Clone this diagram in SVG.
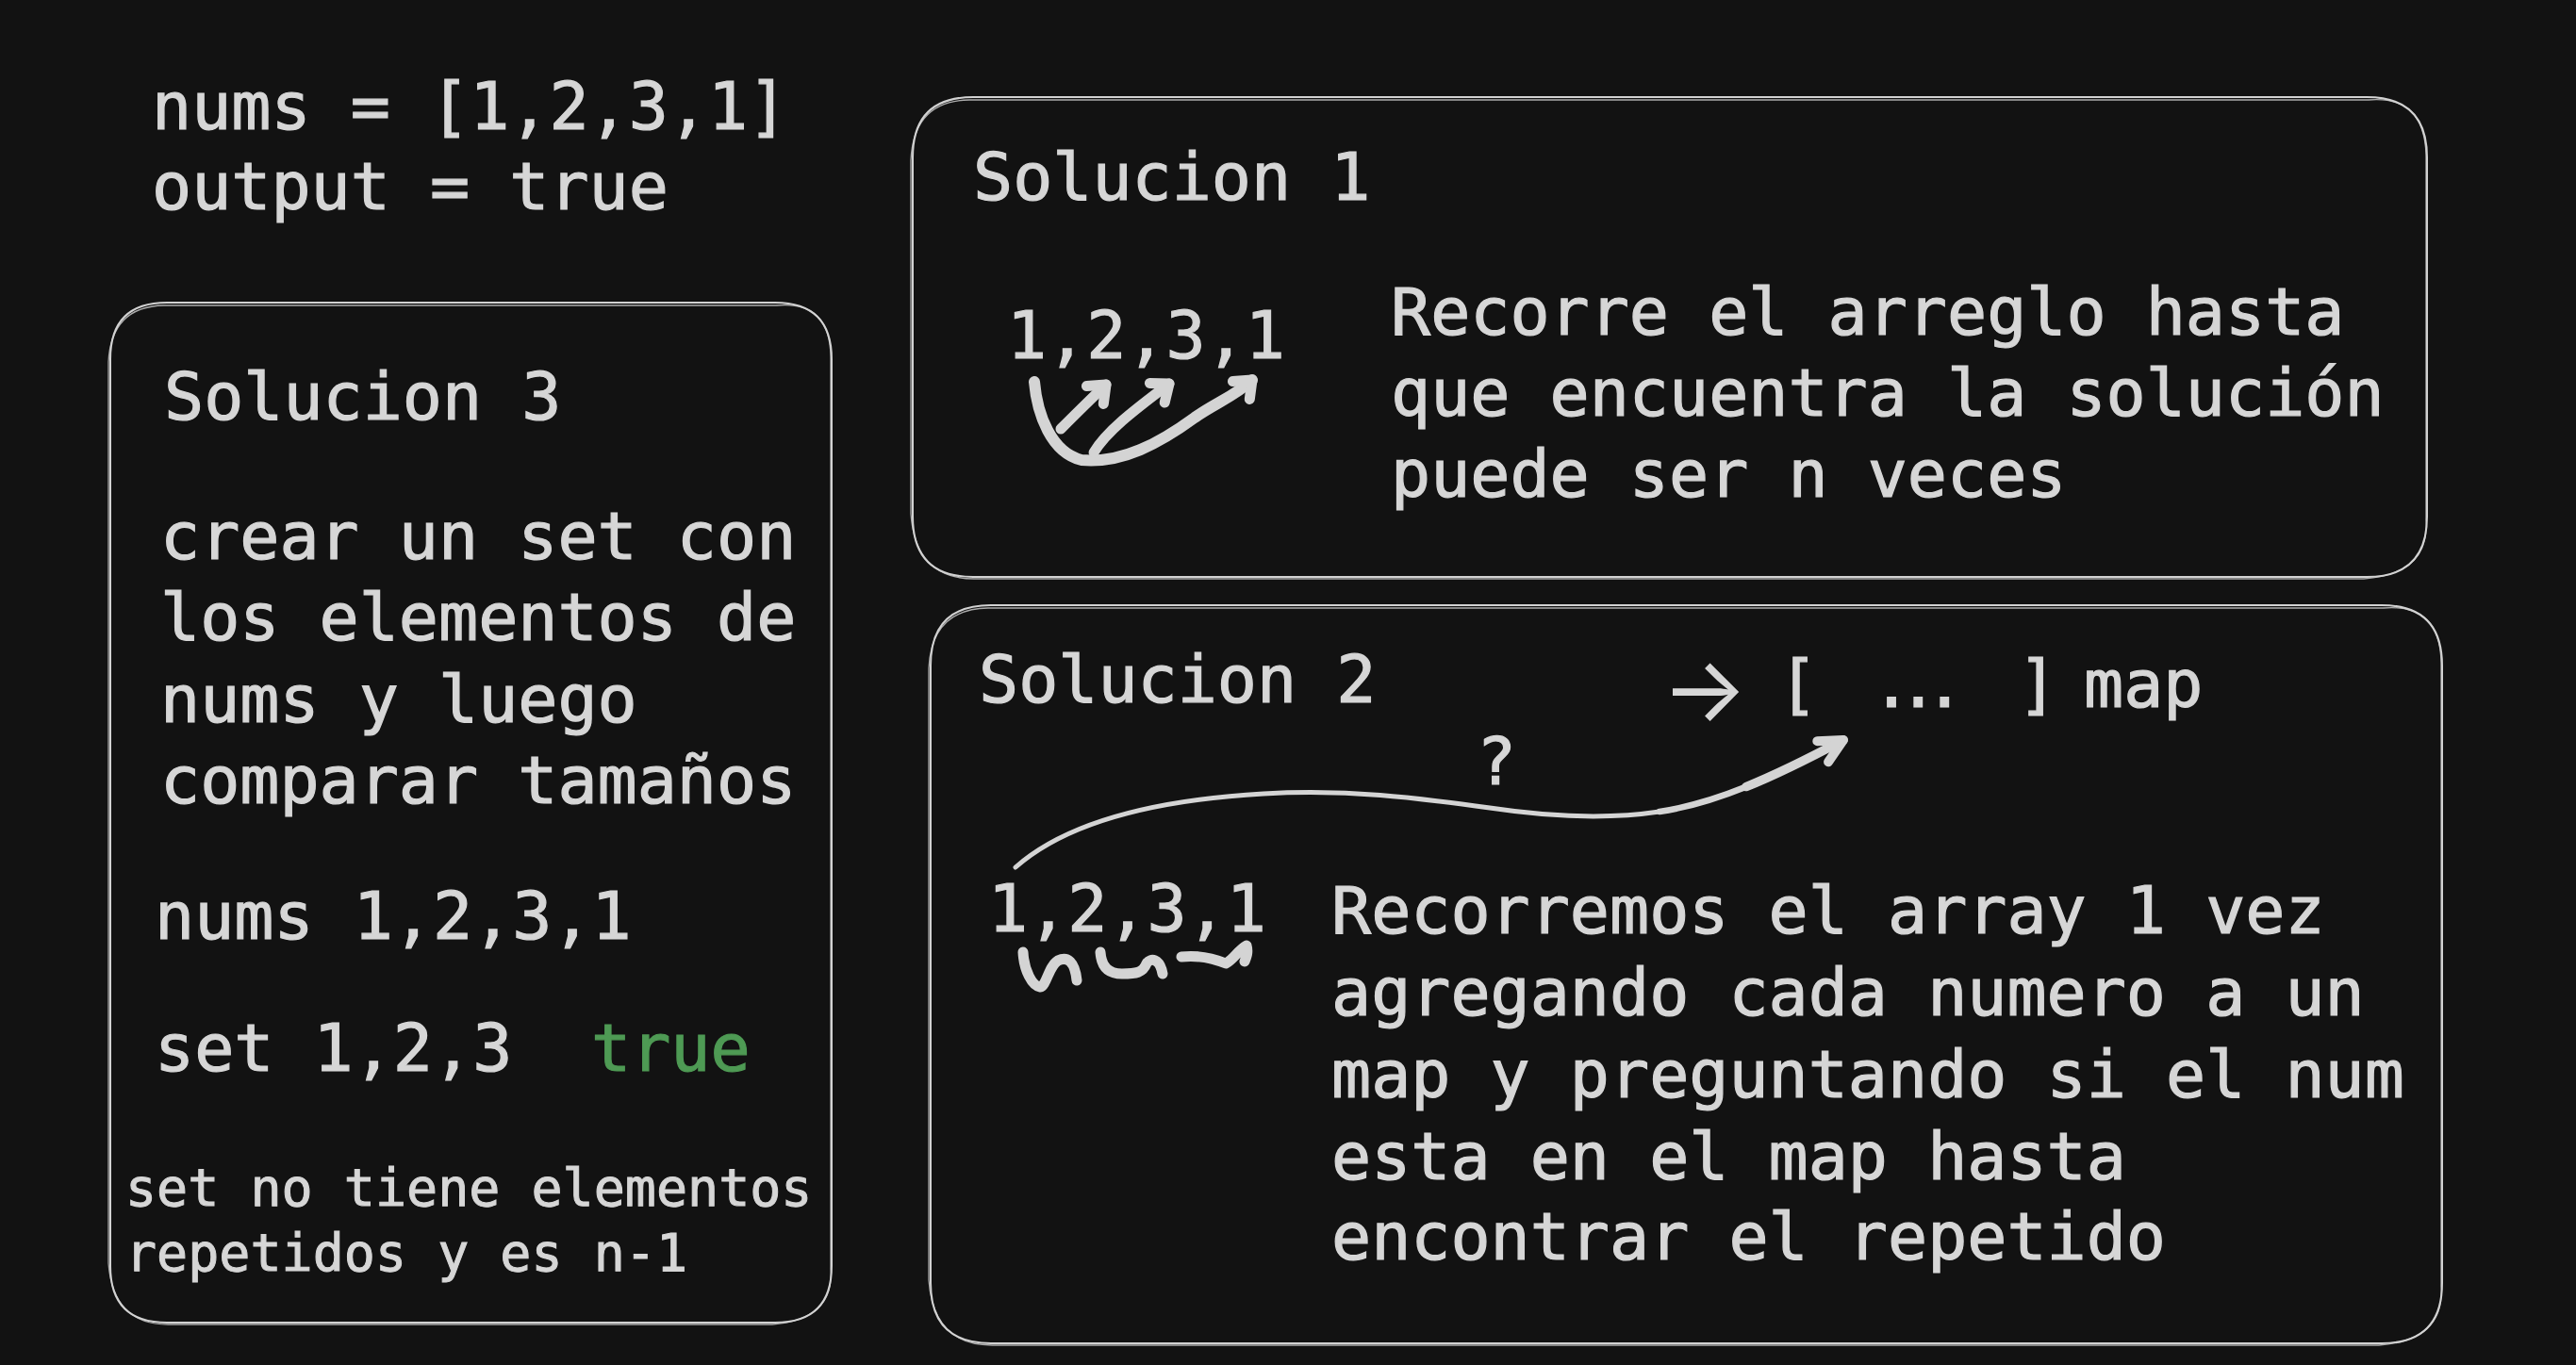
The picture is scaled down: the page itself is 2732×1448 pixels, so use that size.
<svg xmlns="http://www.w3.org/2000/svg" width="2732" height="1448" viewBox="0 0 2732 1448">
<style>
  .t { font-family: "DejaVu Sans Mono", "Liberation Mono", monospace; font-size: 70px; fill: #d6d6d6; stroke: #d6d6d6; stroke-width: 1.2; }
  .s { font-size: 55px; stroke-width: 1; }
  .g { fill: #4e9a54; stroke: #4e9a54; }
  .arr { font-family: Inter, "Noto Sans", sans-serif; font-size: 96px; fill: #d6d6d6; stroke: none; }
  .box { fill: none; stroke: #d2d2d2; stroke-width: 2; stroke-linejoin: round; }
  .box2 { fill: none; stroke: #d2d2d2; stroke-width: 1.3; opacity: 0.8; }
  .draw { fill: none; stroke: #d4d4d4; stroke-linecap: round; stroke-linejoin: round; }
</style>
<defs>
  <marker id="headThick" markerUnits="userSpaceOnUse" viewBox="-30 -30 40 60" refX="0" refY="0" markerWidth="40" markerHeight="60" orient="auto" overflow="visible">
    <path d="M-16,-13 L0,0 L-16,13" fill="none" stroke="#d4d4d4" stroke-width="11" stroke-linecap="round" stroke-linejoin="round"/>
  </marker>
  <marker id="headCurve" markerUnits="userSpaceOnUse" viewBox="-40 -30 50 60" refX="0" refY="0" markerWidth="50" markerHeight="60" orient="auto" overflow="visible">
    <path d="M-25,-12 L0,0 L-25,13" fill="none" stroke="#d4d4d4" stroke-width="10" stroke-linecap="round" stroke-linejoin="round"/>
  </marker>
</defs>
<rect width="2732" height="1448" fill="#121212"/>

<g id="problem">
  <text class="t" x="161" y="137">nums = [1,2,3,1]</text>
  <text class="t" x="161" y="222">output = true</text>
</g>

<g id="solucion1">
  <path class="box" d="M1032,103 H2510 Q2574,103 2574,167 V548 Q2574,612 2510,612 H1032 Q968,612 968,548 V167 Q968,103 1032,103 Z"/>
  <path class="box2" d="M1028,106 H2512 Q2571,101 2573,164 V551 Q2577,609 2507,614 H1035 Q971,615 966,545 V170 Q969,107 1028,106 Z"/>
  <text class="t" x="1032" y="212">Solucion 1</text>
  <text class="t" x="1068" y="380">1,2,3,1</text>
  <text class="t" x="1475" y="355">Recorre el arreglo hasta</text>
  <text class="t" x="1475" y="441">que encuentra la solución</text>
  <text class="t" x="1475" y="527">puede ser n veces</text>
</g>

<g id="solucion2">
  <path class="box" d="M1051,642 H2526 Q2590,642 2590,706 V1361 Q2590,1425 2526,1425 H1051 Q987,1425 987,1361 V706 Q987,642 1051,642 Z"/>
  <path class="box2" d="M1048,645 H2528 Q2588,640 2589,703 V1364 Q2593,1422 2523,1427 H1054 Q990,1428 985,1358 V709 Q988,646 1048,645 Z"/>
  <text class="t" x="1038" y="745">Solucion 2</text>
  <text class="arr" x="1762" y="765">→</text>
  <text class="t" y="750"><tspan x="1886">[</tspan><tspan x="1985" letter-spacing="-14">...</tspan><tspan x="2140">]</tspan><tspan x="2210">map</tspan></text>
  <text class="t" x="1566" y="832">?</text>
  <text class="t" x="1048" y="988">1,2,3,1</text>
  <text class="t" x="1412" y="990">Recorremos el array 1 vez</text>
  <text class="t" x="1412" y="1077">agregando cada numero a un</text>
  <text class="t" x="1412" y="1164">map y preguntando si el num</text>
  <text class="t" x="1412" y="1251">esta en el map hasta</text>
  <text class="t" x="1412" y="1336">encontrar el repetido</text>
</g>

<g id="solucion3">
  <path class="box" d="M177,321 H822 Q882,321 882,381 V1343 Q882,1403 822,1403 H177 Q117,1403 117,1343 V381 Q117,321 177,321 Z"/>
  <path class="box2" d="M174,324 H824 Q880,319 881,378 V1346 Q885,1400 819,1405 H180 Q120,1406 115,1340 V384 Q118,325 174,324 Z"/>
  <text class="t" x="174" y="445">Solucion 3</text>
  <text class="t" x="170" y="593">crear un set con</text>
  <text class="t" x="170" y="679">los elementos de</text>
  <text class="t" x="170" y="766">nums y luego</text>
  <text class="t" x="170" y="852">comparar tamaños</text>
  <text class="t" x="164" y="996">nums 1,2,3,1</text>
  <text class="t" y="1136"><tspan x="164">set 1,2,3</tspan><tspan class="g" x="627">true</tspan></text>
  <text class="t s" x="133" y="1279">set no tiene elementos</text>
  <text class="t s" x="133" y="1348">repetidos y es n-1</text>
</g>

<g id="connectors">
  <path class="draw" stroke-width="12" d="M1097,405 C1100,440 1115,480 1147,488 C1190,492 1230,470 1267,443 C1290,427 1310,420 1328,403" marker-end="url(#headThick)"/>
  <path class="draw" stroke-width="11" d="M1160,480 C1175,455 1210,430 1240,407" marker-end="url(#headThick)"/>
  <path class="draw" stroke-width="11" d="M1125,455 C1140,440 1155,425 1173,408" marker-end="url(#headThick)"/>
  <path class="draw" stroke-width="5" d="M1077,920 C1120,882 1200,850 1340,842 C1430,837 1500,846 1580,857 C1640,866 1700,870 1760,861 C1820,852 1880,825 1955,785" marker-end="url(#headCurve)"/>
  <path class="draw" stroke-width="6.5" d="M1760,861 C1820,852 1880,825 1955,785"/>
  <path class="draw" stroke-width="9.5" d="M1851.9,834.6 C1883.75,821.75 1917.5,805 1955,785"/>
  <path class="draw" stroke-width="11" d="M1085,1010 C1086,1030 1095,1046 1103,1047 C1110,1046 1112,1025 1122,1019 C1132,1014 1140,1020 1142,1040"/>
  <path class="draw" stroke-width="11" d="M1167,1010 C1168,1025 1175,1033 1190,1033 C1205,1033 1212,1032 1216,1022 C1220,1016 1230,1016 1233,1033"/>
  <path class="draw" stroke-width="11" d="M1253,1015 C1270,1013 1285,1016 1300,1022 C1308,1018 1313,1008 1322,1003 C1324,1010 1322,1015 1320,1020"/>
</g>
</svg>
